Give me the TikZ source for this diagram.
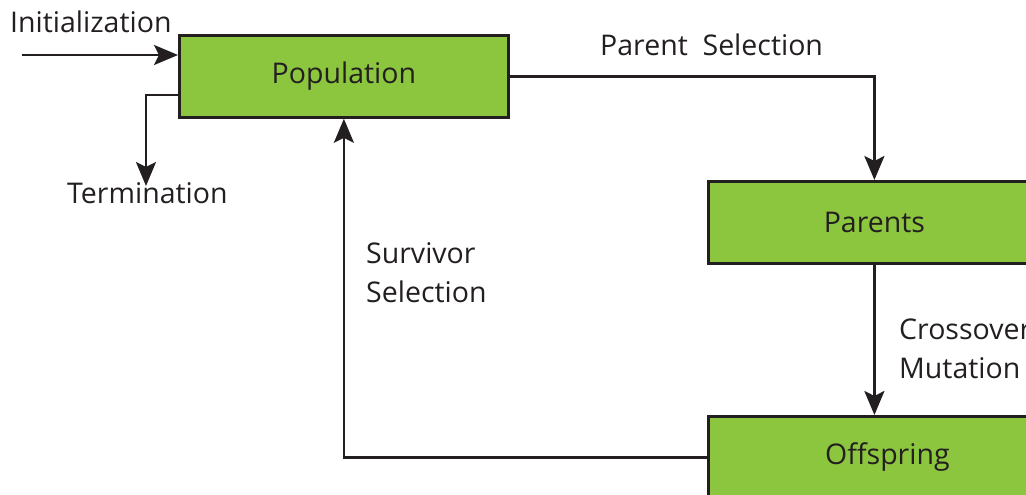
\documentclass[tikz,border=0pt]{standalone}
\usepackage{fontspec}
\setmainfont{Open Sans}
\usetikzlibrary{arrows.meta}
\definecolor{boxgreen}{HTML}{8CC63F}
\definecolor{ink}{HTML}{231F20}
\begin{document}
\begin{tikzpicture}[x=1pt,y=-1pt,
  font=\fontsize{28.5}{39}\selectfont,
  stagebox/.style={draw=ink, fill=boxgreen, line width=2.8pt, minimum height=82pt,
    anchor=north west, inner sep=0pt, text=ink},
  flow/.style={draw=ink, line width=2.7pt,
    -{Stealth[length=24pt, width=20pt, inset=5pt]}},
  caption/.style={text=ink, inner sep=0pt, anchor=west, align=left}]
\useasboundingbox (0,0) rectangle (1026,495);
\clip (0,0) rectangle (1026,495);

% stages
\node[stagebox, minimum width=329pt] (pop) at (178,34) {Population};
\node[stagebox, minimum width=332pt] (par) at (707,180) {Parents};
\node[stagebox, minimum width=358pt] (off) at (707,415) {Offspring};

% free ends
\coordinate (initstart) at (22,55);
\coordinate (termrow) at (0,95);
\coordinate (termend) at (146,186);

% connectors
\draw[flow] (initstart) -- (initstart -| pop.west);
\draw[flow] (pop.west |- termrow) -| (termend);
\draw[flow] (pop.east) -| (par.north);
\draw[flow] (par.south) -- (par.south |- off.north);
\draw[flow] (off.west) -| (pop.south);

% labels
\node[caption] (linit) at (10,22) {Initialization};
\node[caption] (lterm) at (67,193) {Termination};
\node[caption] (lpsel) at (600,45) {Parent~~Selection};
\node[caption] (lvar) at (899,349) {Crossover\\Mutation};
\node[caption] (lsurv) at (366,273) {Survivor\\Selection};
\end{tikzpicture}
\end{document}
